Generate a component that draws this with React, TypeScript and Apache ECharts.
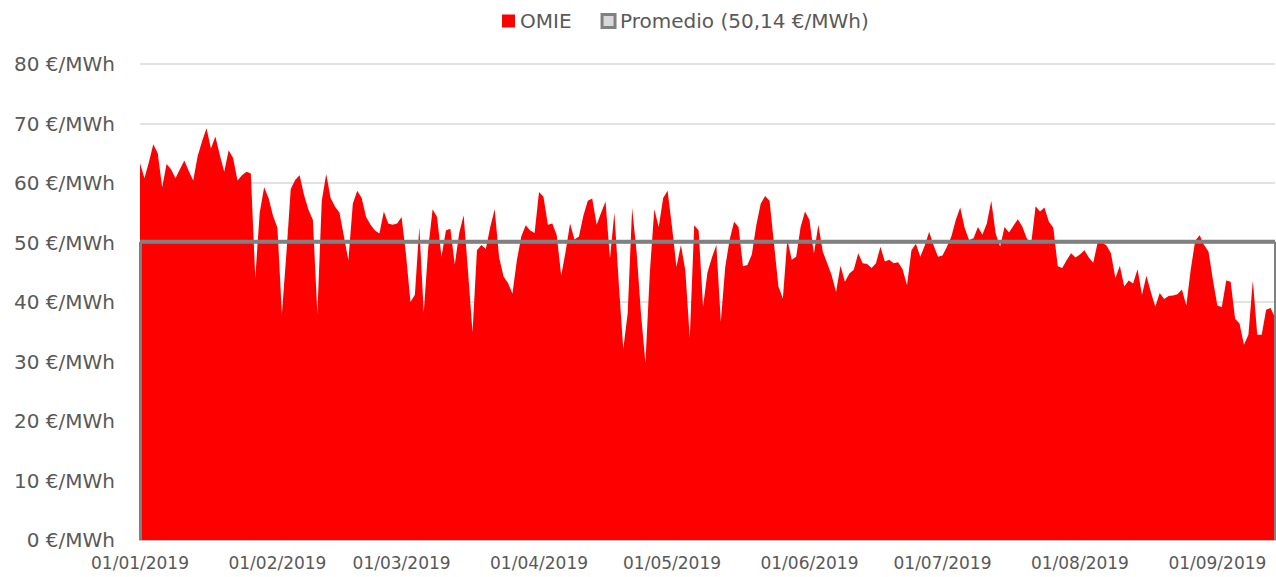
import React, { useEffect, useRef } from "react";
import * as echarts from "echarts";

const START_YEAR = 2019;
const DAY_COUNT = 257;
const AVG = 50.14;
const OMIE_NAME = "OMIE";
const AVG_NAME = "Promedio (50,14 €/MWh)";

const omie: number[] = [
  63.3, 60.8, 63.5, 66.5, 65, 59.3, 63.2, 62.3, 60.8, 62.3,
  63.8, 62, 60.4, 64.5, 67, 69.2, 65.8, 67.8, 64.7, 61.9,
  65.5, 64.2, 60.4, 61.3, 61.9, 61.6, 44, 55, 59.3, 57.5,
  54.5, 52.5, 38, 48, 59, 60.5, 61.3, 58, 55.5, 53.8,
  38, 57, 61.5, 57.5, 56, 55, 51, 47, 56.5, 58.7,
  57.5, 54.3, 53, 52, 51.5, 55.2, 53.2, 53, 53.2, 54.3,
  48, 40, 41.2, 52.6, 38.2, 49, 55.6, 54.3, 47.6, 52,
  52.3, 46.3, 51.6, 54.6, 45, 34.9, 48.7, 49.6, 48.9, 52.6,
  55.6, 47.5, 44.3, 43.2, 41.4, 47, 51, 52.9, 52, 51.6,
  58.5, 57.7, 53, 53.2, 51.2, 44.4, 48.5, 53.2, 50.5, 51,
  54.5, 57, 57.4, 53, 55, 56.9, 47.3, 55, 43, 32.1,
  38.1, 55.8, 48.5, 38, 29.8, 45, 55.6, 52.6, 57.5, 58.7,
  52.6, 45.9, 49.6, 45.3, 33.9, 52.9, 52, 39.2, 45, 47.5,
  49.6, 36.7, 45.9, 50.5, 53.5, 52.6, 46, 46.2, 48, 52.9,
  56.5, 57.8, 57, 49.8, 42.6, 40.6, 50.5, 47.1, 47.6, 52.6,
  55.2, 53.8, 48.1, 53, 48.5, 46.5, 44.5, 41.7, 46.1, 43.4,
  44.8, 45.4, 48.2, 46.5, 46.4, 45.7, 46.5, 49.3, 46.8, 47.1,
  46.5, 46.7, 45.5, 42.8, 48.7, 49.8, 47.6, 49.5, 51.8, 49.5,
  47.6, 47.8, 49.3, 51, 53.8, 55.9, 52.5, 50.4, 50.7, 52.6,
  51.3, 53.2, 57, 51.5, 49.3, 52.6, 51.7, 52.8, 53.9, 52.7,
  50.7, 49.8, 56.1, 55.2, 55.9, 53.5, 52.5, 46, 45.7, 47,
  48.2, 47.5, 48, 48.7, 47.5, 46.6, 50, 50, 49.5, 48.2,
  44, 46.1, 42.6, 43.6, 43.1, 45.5, 41.2, 44.4, 41.7, 39.2,
  41.5, 40.5, 41, 41.1, 41.3, 42.1, 39.4, 45.5, 50.3, 51.2,
  49.6, 48.5, 43.7, 39.4, 39.1, 43.6, 43.4, 37.2, 36.4, 32.8,
  34.5, 43.6, 34.5, 34.5, 38.7, 39, 37.4,
];

const pad = (n: number) => (n < 10 ? "0" + n : String(n));
const dates: string[] = [];
for (let i = 0; i < DAY_COUNT; i++) {
  const d = new Date(Date.UTC(START_YEAR, 0, 1 + i));
  dates.push(`${pad(d.getUTCDate())}/${pad(d.getUTCMonth() + 1)}/${d.getUTCFullYear()}`);
}

const TEXT = "#595959";
const FONT = "'Century Gothic', 'DejaVu Sans', sans-serif";

export default function App() {
  const ref = useRef<HTMLDivElement>(null);
  useEffect(() => {
    if (!ref.current) return;
    const chart = echarts.init(ref.current, undefined, { renderer: "svg" });
    const last = dates[dates.length - 1];
    chart.setOption({
      animation: false,
      textStyle: { fontFamily: FONT, color: TEXT },
      legend: {
        top: 6,
        left: 497,
        itemWidth: 13,
        itemHeight: 13,
        itemGap: 29,
        textStyle: { fontSize: 20, color: TEXT, fontFamily: FONT },
        data: [
          { name: OMIE_NAME, icon: "rect", itemStyle: { color: "#ff0000" } },
          {
            name: AVG_NAME,
            icon: "rect",
            itemStyle: { color: "#d9d9d9", borderColor: "#808080", borderWidth: 3 },
          },
        ],
      },
      grid: { left: 140, right: 1, top: 64, bottom: 37, containLabel: false },
      xAxis: {
        type: "category",
        data: dates,
        boundaryGap: false,
        axisTick: { show: false },
        axisLine: { lineStyle: { color: "#bfbfbf", width: 2 } },
        axisLabel: {
          interval: (_i: number, v: string) => v.startsWith("01/"),
          color: TEXT,
          fontSize: 17,
          fontFamily: FONT,
          margin: 14,
        },
        splitLine: { show: false },
      },
      yAxis: {
        type: "value",
        min: 0,
        max: 80,
        interval: 10,
        axisLine: { show: false },
        axisTick: { show: false },
        axisLabel: {
          formatter: "{value} €/MWh",
          color: TEXT,
          fontSize: 20,
          fontFamily: FONT,
          margin: 25,
        },
        splitLine: { lineStyle: { color: "#d9d9d9", width: 1.5 } },
      },
      series: [
        {
          name: OMIE_NAME,
          type: "line",
          data: omie,
          symbol: "none",
          lineStyle: { width: 0, color: "#ff0000" },
          itemStyle: { color: "#ff0000" },
          areaStyle: { color: "#ff0000", opacity: 1 },
        },
        {
          name: AVG_NAME,
          type: "line",
          data: dates.map(() => AVG),
          symbol: "none",
          lineStyle: { width: 4, color: "#808080" },
          itemStyle: { color: "#808080" },
          markLine: {
            symbol: "none",
            silent: true,
            label: { show: false },
            lineStyle: { color: "#808080", width: 3, type: "solid" },
            data: [
              [{ coord: [dates[0], 0] }, { coord: [dates[0], AVG] }],
              [{ coord: [last, 0] }, { coord: [last, AVG] }],
            ],
          },
        },
      ],
    });
    return () => chart.dispose();
  }, []);
  return (
    <div
      ref={ref}
      style={{ position: "fixed", left: 0, top: 0, width: 1276, height: 577, background: "#fff" }}
    />
  );
}
